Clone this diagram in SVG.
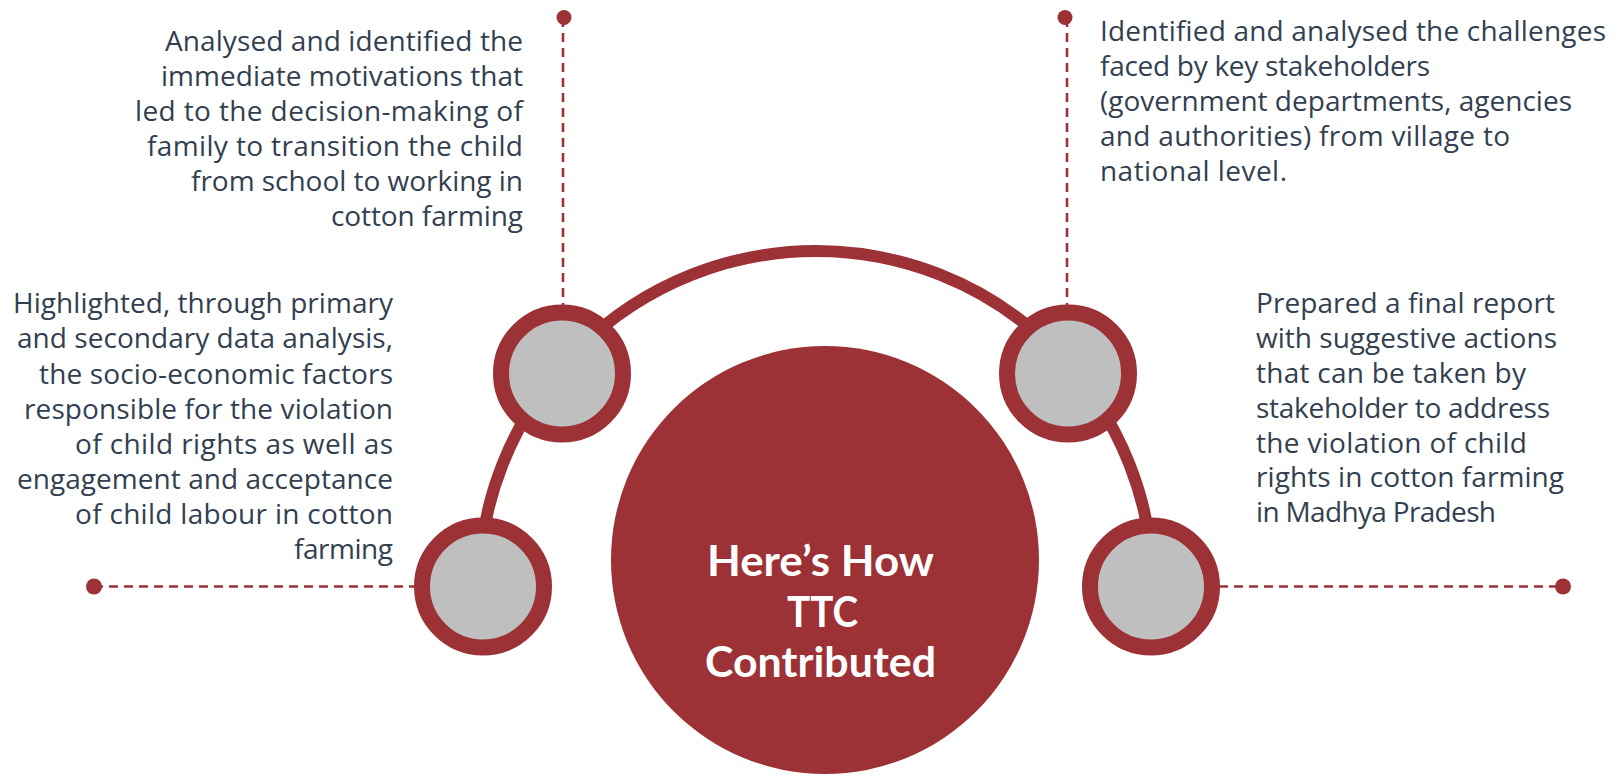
<svg xmlns="http://www.w3.org/2000/svg" width="1621" height="777" viewBox="0 0 1621 777">
<style>
.body{font-family:"Open Sans","Noto Sans","DejaVu Sans",sans-serif;font-size:28px;fill:#333F50}
.title{font-family:Lato,"Open Sans",sans-serif;font-weight:700;font-size:42px;fill:#FFFFFF}
.dash{stroke:#9C3136;stroke-width:2.6;stroke-dasharray:9 6;fill:none}
.dot{fill:#9C3136}
.ring{fill:#BFBFBF;stroke:#9C3136;stroke-width:16}
.arc{fill:none;stroke:#9C3136;stroke-width:12}
</style>
<rect width="1621" height="777" fill="#FFFFFF"/>
<g id="connectors">
<path class="arc" d="M 479 588 A 337 337 0 0 1 1153 588"/>
<line class="dash" x1="563" y1="18" x2="563" y2="305"/>
<line class="dash" x1="1067" y1="18" x2="1067" y2="305"/>
<line class="dash" x1="94" y1="586.5" x2="415" y2="586.5"/>
<line class="dash" x1="1219" y1="586.5" x2="1563" y2="586.5"/>
<circle class="dot" cx="564" cy="17.5" r="7.5"/>
<circle class="dot" cx="1065" cy="17.5" r="7.5"/>
<circle class="dot" cx="94" cy="586.5" r="8"/>
<circle class="dot" cx="1563" cy="586.5" r="8"/>
</g>
<g id="center">
<circle cx="825" cy="560" r="214" fill="#9C3136"/>
<text class="title" x="707" y="576" textLength="227" lengthAdjust="spacingAndGlyphs">Here’s How</text>
<text class="title" x="787" y="626.5" textLength="71" lengthAdjust="spacingAndGlyphs">TTC</text>
<text class="title" x="705" y="677" textLength="231" lengthAdjust="spacingAndGlyphs">Contributed</text>
</g>
<g id="node-top-left">
<circle class="ring" cx="562" cy="373.5" r="61"/>
<text class="body" x="165" y="51" textLength="358">Analysed and identified the</text>
<text class="body" x="161" y="86" textLength="362">immediate motivations that</text>
<text class="body" x="135" y="121" textLength="388">led to the decision-making of</text>
<text class="body" x="147" y="156" textLength="376">family to transition the child</text>
<text class="body" x="191" y="191" textLength="332">from school to working in</text>
<text class="body" x="331" y="226" textLength="192">cotton farming</text>
</g>
<g id="node-top-right">
<circle class="ring" cx="1068" cy="373.5" r="61"/>
<text class="body" x="1100" y="40.5" textLength="506">Identified and analysed the challenges</text>
<text class="body" x="1100" y="75.5" textLength="330">faced by key stakeholders</text>
<text class="body" x="1100" y="110.5" textLength="472">(government departments, agencies</text>
<text class="body" x="1100" y="145.5" textLength="410">and authorities) from village to</text>
<text class="body" x="1100" y="180.5" textLength="187">national level.</text>
</g>
<g id="node-bottom-left">
<circle class="ring" cx="483" cy="586.5" r="61"/>
<text class="body" x="13" y="313" textLength="380">Highlighted, through primary</text>
<text class="body" x="17" y="348" textLength="376">and secondary data analysis,</text>
<text class="body" x="39" y="383.5" textLength="354">the socio-economic factors</text>
<text class="body" x="24" y="418.5" textLength="369">responsible for the violation</text>
<text class="body" x="75" y="453.5" textLength="318">of child rights as well as</text>
<text class="body" x="17" y="489" textLength="376">engagement and acceptance</text>
<text class="body" x="75" y="524" textLength="318">of child labour in cotton</text>
<text class="body" x="294" y="559" textLength="99">farming</text>
</g>
<g id="node-bottom-right">
<circle class="ring" cx="1151" cy="586.5" r="61"/>
<text class="body" x="1256" y="313" textLength="299">Prepared a final report</text>
<text class="body" x="1256" y="347.5" textLength="301">with suggestive actions</text>
<text class="body" x="1256" y="382.5" textLength="270">that can be taken by</text>
<text class="body" x="1256" y="417.5" textLength="294">stakeholder to address</text>
<text class="body" x="1256" y="452.5" textLength="271">the violation of child</text>
<text class="body" x="1256" y="487" textLength="308">rights in cotton farming</text>
<text class="body" x="1256" y="522" textLength="240">in Madhya Pradesh</text>
</g>
</svg>
